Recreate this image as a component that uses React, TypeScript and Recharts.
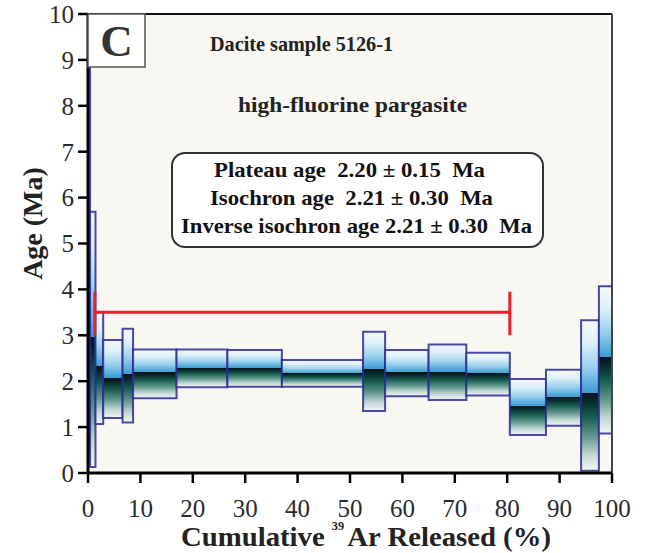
import {
  ComposedChart,
  ReferenceArea,
  ReferenceLine,
  Scatter,
  XAxis,
  YAxis,
} from "recharts";

// step boundaries (cumulative 39Ar %), one more than the number of steps
const stepBounds = [
  0, 0.4, 1.43, 2.9, 6.6, 8.6, 16.9, 26.6, 37.0, 52.5, 56.7, 65.0, 72.2, 80.5,
  87.4, 94.1, 97.5, 100,
];
const ageHigh = [
  8.85, 5.69, 3.5, 2.9, 3.14, 2.69, 2.69, 2.68, 2.46, 3.08, 2.68, 2.8, 2.62,
  2.05, 2.25, 3.33, 4.07,
];
const ageLow = [
  0.5, 0.13, 1.07, 1.2, 1.1, 1.63, 1.87, 1.88, 1.88, 1.35, 1.67, 1.59, 1.69,
  0.83, 1.03, 0.05, 0.86,
];
const ageMid = [
  3.0, 2.96, 2.33, 2.08, 2.16, 2.19, 2.29, 2.29, 2.17, 2.26, 2.19, 2.21, 2.17,
  1.47, 1.66, 1.74, 2.52,
];

const xTicks = [0, 10, 20, 30, 40, 50, 60, 70, 80, 90, 100];
const yTicks = [0, 1, 2, 3, 4, 5, 6, 7, 8, 9, 10];

// plateau marker
const plateauY = 3.5;
const plateauFrom = 1.3;
const plateauTo = 80.5;
const capLow = 3.0;
const capHigh = 3.95;

const ageLines = [
  "Plateau age  2.20 \u00b1 0.15  Ma",
  "Isochron age  2.21 \u00b1 0.30  Ma",
  "Inverse isochron age 2.21 \u00b1 0.30  Ma",
];

const TOP_STOPS: [number, string][] = [
  [0, "#f5f9fc"],
  [0.3, "#e0f0f9"],
  [0.65, "#98d0ed"],
  [1, "#3a9cd3"],
];
const BOTTOM_STOPS: [number, string][] = [
  [0, "#021116"],
  [0.1, "#06282a"],
  [0.3, "#175c50"],
  [0.55, "#5f968c"],
  [0.8, "#c4d9d6"],
  [1, "#f4f7f7"],
];

const steps = ageMid.map((mid, i) => ({
  x1: stepBounds[i],
  x2: stepBounds[i + 1],
  hi: ageHigh[i],
  lo: ageLow[i],
  mid,
}));

const SERIF = "'Liberation Serif', 'Times New Roman', serif";

const YTitle = ({ viewBox }: any) => {
  if (!viewBox) return null;
  const x = 42;
  const y = viewBox.y + viewBox.height / 2 - 20;
  return (
    <text
      x={x}
      y={y}
      fill="#222"
      fontSize={28}
      fontWeight="bold"
      fontFamily={SERIF}
      textAnchor="middle"
      transform={`rotate(-90 ${x} ${y})`}
    >
      Age (Ma)
    </text>
  );
};

const XTitle = ({ viewBox }: any) => {
  if (!viewBox) return null;
  const y = viewBox.y + 73;
  return (
    <text
      x={181}
      y={y}
      fill="#222"
      fontWeight="bold"
      fontFamily={SERIF}
      fontSize={28}
      textLength={370}
      lengthAdjust="spacingAndGlyphs"
    >
      <tspan>Cumulative </tspan>
      <tspan fontSize={12} dy={-16}>
        39
      </tspan>
      <tspan dy={16} dx={3}>
        Ar Released (%)
      </tspan>
    </text>
  );
};

export default function App() {
  return (
    <div
      style={{
        position: "absolute",
        left: 0,
        top: 0,
        width: 649,
        height: 553,
        background: "#fff",
      }}
    >
      <ComposedChart
        width={649}
        height={553}
        data={steps}
        margin={{ top: 14, right: 37, bottom: 0, left: 0 }}
      >
        <defs>
          {steps.map((s, i) => {
            const t = (s.hi - s.mid) / (s.hi - s.lo);
            return (
              <linearGradient key={i} id={`step-${i}`} x1="0" y1="0" x2="0" y2="1">
                {TOP_STOPS.map(([o, c], k) => (
                  <stop key={`t${k}`} offset={o * t} stopColor={c} />
                ))}
                {BOTTOM_STOPS.map(([o, c], k) => (
                  <stop key={`b${k}`} offset={t + (1 - t) * o} stopColor={c} />
                ))}
              </linearGradient>
            );
          })}
        </defs>
        <XAxis
          type="number"
          dataKey="x1"
          domain={[0, 100]}
          ticks={xTicks}
          interval={0}
          height={80}
          tickSize={10}
          tickMargin={16}
          allowDataOverflow
          axisLine={{ stroke: "#000", strokeWidth: 3 }}
          tickLine={{ stroke: "#000", strokeWidth: 2.5 }}
          tick={{ fill: "#2b2b2b", fontSize: 25, fontFamily: SERIF }}
          label={<XTitle />}
        />
        <YAxis
          type="number"
          dataKey="mid"
          domain={[0, 10]}
          ticks={yTicks}
          interval={0}
          width={88}
          tickSize={10}
          tickMargin={4}
          allowDataOverflow
          axisLine={{ stroke: "#000", strokeWidth: 3 }}
          tickLine={{ stroke: "#000", strokeWidth: 2.5 }}
          tick={{ fill: "#2b2b2b", fontSize: 25, fontFamily: SERIF }}
          label={<YTitle />}
        />
        <ReferenceArea
          x1={0}
          x2={100}
          y1={0}
          y2={10}
          fill="#f8f7f2"
          fillOpacity={1}
          stroke="none"
        />
        {steps.map((s, i) => (
          <ReferenceArea
            key={i}
            x1={s.x1}
            x2={s.x2}
            y1={s.lo}
            y2={s.hi}
            fill={`url(#step-${i})`}
            fillOpacity={1}
            stroke="#2a2a95"
            strokeWidth={2}
            strokeOpacity={0.85}
          />
        ))}
        {/* invisible series so the axes get their domains */}
        <Scatter
          dataKey="mid"
          fill="none"
          shape={() => <g />}
          isAnimationActive={false}
        />
        <ReferenceLine
          segment={[
            { x: plateauFrom, y: plateauY },
            { x: plateauTo, y: plateauY },
          ]}
          stroke="#e8202a"
          strokeWidth={3}
        />
        <ReferenceLine
          segment={[
            { x: plateauFrom, y: capLow },
            { x: plateauFrom, y: capHigh },
          ]}
          stroke="#e8202a"
          strokeWidth={3}
        />
        <ReferenceLine
          segment={[
            { x: plateauTo, y: capLow },
            { x: plateauTo, y: capHigh },
          ]}
          stroke="#e8202a"
          strokeWidth={3}
        />
        <ReferenceLine y={10} stroke="#111" strokeWidth={2} />
        <ReferenceLine x={100} stroke="#444" strokeWidth={2} />
      </ComposedChart>

      {/* annotations */}
      <svg
        width={649}
        height={553}
        style={{ position: "absolute", left: 0, top: 0, pointerEvents: "none" }}
        fontFamily={SERIF}
        fontWeight="bold"
      >
        <rect x={88} y={14} width={57} height={53} fill="#fff" stroke="#555" strokeWidth={1.5} />
        <text x={116.5} y={56} fontSize={45} textAnchor="middle" fill="#333">
          C
        </text>
        <text x={210} y={51} fontSize={21} fill="#222" textLength={183} lengthAdjust="spacingAndGlyphs">
          Dacite sample 5126-1
        </text>
        <text x={238} y={112} fontSize={21} fill="#222" textLength={229} lengthAdjust="spacingAndGlyphs">
          high-fluorine pargasite
        </text>
        <rect x={172} y={153} width={371} height={94} rx={13} fill="#fff" stroke="#333" strokeWidth={2} />
        <text x={214} y={177} fontSize={22} fill="#111" textLength={271} lengthAdjust="spacingAndGlyphs" xmlSpace="preserve">
          {ageLines[0]}
        </text>
        <text x={210} y={205} fontSize={22} fill="#111" textLength={283} lengthAdjust="spacingAndGlyphs" xmlSpace="preserve">
          {ageLines[1]}
        </text>
        <text x={181} y={233} fontSize={22} fill="#111" textLength={351} lengthAdjust="spacingAndGlyphs" xmlSpace="preserve">
          {ageLines[2]}
        </text>
      </svg>
    </div>
  );
}
